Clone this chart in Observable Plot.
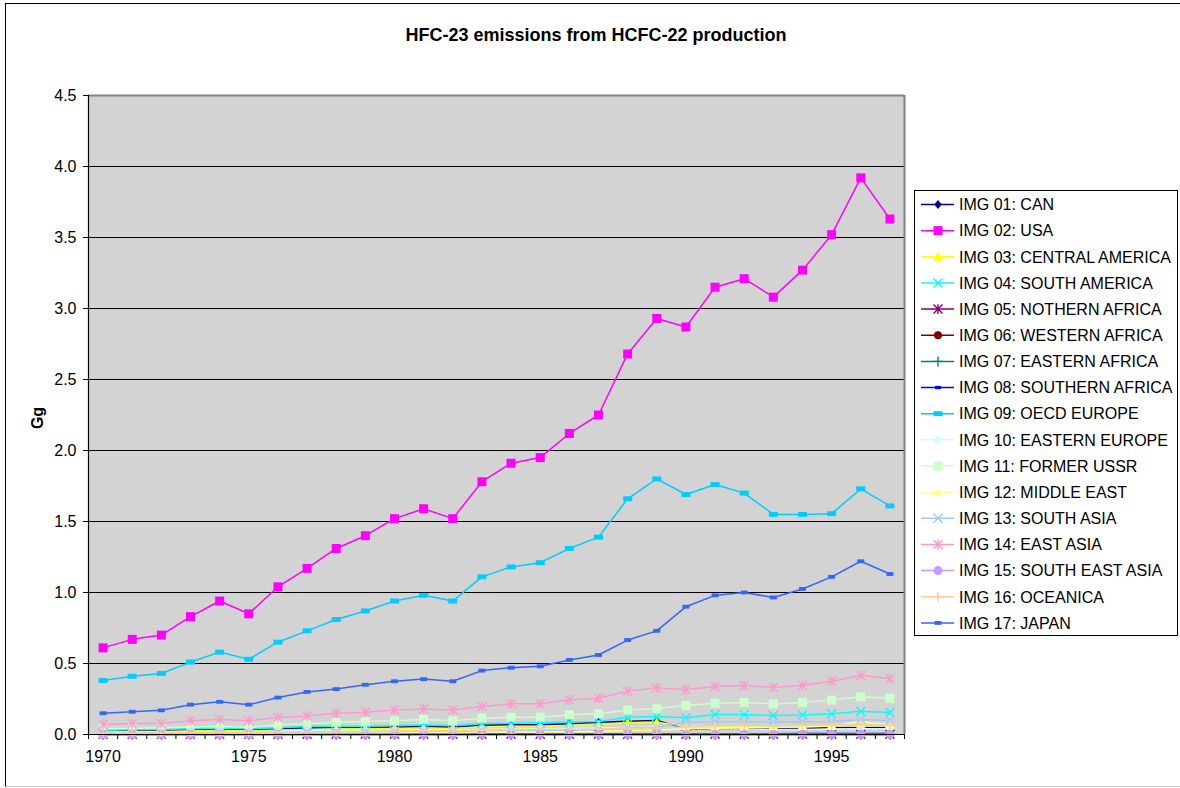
<!DOCTYPE html>
<html>
<head>
<meta charset="utf-8">
<script src="https://cdn.jsdelivr.net/npm/d3@7"></script>
<script src="https://cdn.jsdelivr.net/npm/@observablehq/plot@0.6"></script>
<style>
  body { margin: 0; background: #fff; font-family: "Liberation Sans", Arial, sans-serif; }
  #wrap { position: relative; width: 1180px; height: 788px; overflow: hidden; background: #fff; }
  #frame { position: absolute; left: 5px; top: 3px; width: 1200px; height: 782px;
           border-left: 1px solid #000; border-top: 1px solid #000; border-bottom: 1px solid #c8c8c8; }
  #title { position: absolute; left: 0; top: 25px; width: 1192px; text-align: center;
           font-weight: bold; font-size: 18px; color: #000; }
  #ylabel { position: absolute; left: 38px; top: 418px; transform: translate(-50%, -50%) rotate(-90deg);
            font-weight: bold; font-size: 16px; color: #000; }
  #chart { position: absolute; left: 0; top: 0; }
  #legend { position: absolute; left: 914px; top: 190px; }
</style>
</head>
<body>
<div id="wrap">
  <div id="frame"></div>
  <div id="title">HFC-23 emissions from HCFC-22 production</div>
  <div id="chart"></div>
  <div id="ylabel">Gg</div>
  <div id="legend"></div>
</div>
<script>
// Years on the category axis
const years = d3.range(1970, 1998);
const yearLabels = [1970, 1975, 1980, 1985, 1990, 1995];
const yTicks = [0, 0.5, 1, 1.5, 2, 2.5, 3, 3.5, 4, 4.5];

// HFC-23 emissions per IMAGE region, Gg, 1970-1997
const can = [0.025, 0.027, 0.028, 0.033, 0.037, 0.033, 0.040, 0.047, 0.049, 0.049, 0.051, 0.056, 0.051, 0.065, 0.068, 0.068, 0.075, 0.087, 0.094, 0.099, 0.040, 0.040, 0.040, 0.040, 0.042, 0.047, 0.047, 0.047];
const usa = [0.61, 0.67, 0.70, 0.83, 0.94, 0.85, 1.04, 1.17, 1.31, 1.40, 1.52, 1.59, 1.52, 1.78, 1.91, 1.95, 2.12, 2.25, 2.68, 2.93, 2.87, 3.15, 3.21, 3.08, 3.27, 3.52, 3.92, 3.63];
const centralAmerica = [0.018, 0.020, 0.021, 0.025, 0.028, 0.025, 0.030, 0.034, 0.038, 0.040, 0.042, 0.045, 0.042, 0.055, 0.056, 0.056, 0.063, 0.068, 0.082, 0.087, 0.058, 0.060, 0.060, 0.058, 0.062, 0.066, 0.075, 0.075];
const southAmerica = [0.030, 0.033, 0.035, 0.040, 0.044, 0.040, 0.048, 0.056, 0.058, 0.058, 0.063, 0.068, 0.063, 0.077, 0.080, 0.085, 0.088, 0.092, 0.122, 0.127, 0.118, 0.140, 0.140, 0.133, 0.137, 0.146, 0.163, 0.155];
const northernAfrica = [0.001, 0.001, 0.001, 0.001, 0.001, 0.001, 0.001, 0.001, 0.001, 0.001, 0.002, 0.002, 0.002, 0.002, 0.002, 0.002, 0.002, 0.002, 0.002, 0.002, 0.002, 0.002, 0.002, 0.002, 0.002, 0.002, 0.002, 0.002];
const westernAfrica = [0, 0, 0, 0, 0, 0, 0, 0, 0, 0, 0, 0, 0, 0, 0, 0, 0, 0, 0, 0, 0, 0, 0, 0, 0, 0, 0, 0];
const easternAfrica = [0, 0, 0, 0, 0, 0, 0, 0, 0, 0, 0, 0, 0, 0, 0, 0, 0, 0, 0, 0, 0, 0, 0, 0, 0, 0, 0, 0];
const southernAfrica = [0.003, 0.003, 0.003, 0.003, 0.004, 0.003, 0.004, 0.004, 0.004, 0.004, 0.005, 0.005, 0.005, 0.005, 0.005, 0.005, 0.006, 0.006, 0.006, 0.006, 0.006, 0.006, 0.006, 0.006, 0.007, 0.007, 0.007, 0.007];
const oecdEurope = [0.38, 0.41, 0.43, 0.51, 0.58, 0.53, 0.65, 0.73, 0.81, 0.87, 0.94, 0.98, 0.94, 1.11, 1.18, 1.21, 1.31, 1.39, 1.66, 1.80, 1.69, 1.76, 1.70, 1.55, 1.55, 1.555, 1.73, 1.61];
const easternEurope = [0.015, 0.016, 0.017, 0.020, 0.022, 0.020, 0.024, 0.026, 0.028, 0.030, 0.032, 0.033, 0.032, 0.036, 0.038, 0.040, 0.042, 0.045, 0.050, 0.052, 0.045, 0.040, 0.038, 0.036, 0.036, 0.038, 0.040, 0.040];
const formerUssr = [0.040, 0.044, 0.047, 0.052, 0.058, 0.050, 0.068, 0.075, 0.087, 0.092, 0.097, 0.106, 0.097, 0.115, 0.122, 0.122, 0.139, 0.146, 0.172, 0.181, 0.205, 0.220, 0.226, 0.215, 0.225, 0.243, 0.265, 0.255];
const middleEast = [0.005, 0.005, 0.006, 0.007, 0.008, 0.007, 0.009, 0.010, 0.011, 0.012, 0.013, 0.014, 0.013, 0.016, 0.017, 0.018, 0.020, 0.022, 0.028, 0.030, 0.040, 0.045, 0.050, 0.050, 0.055, 0.060, 0.090, 0.070];
const southAsia = [0.010, 0.010, 0.011, 0.013, 0.014, 0.013, 0.015, 0.017, 0.019, 0.020, 0.022, 0.023, 0.022, 0.028, 0.030, 0.030, 0.033, 0.036, 0.045, 0.050, 0.085, 0.090, 0.090, 0.087, 0.090, 0.092, 0.105, 0.098];
const eastAsia = [0.070, 0.078, 0.078, 0.097, 0.105, 0.097, 0.120, 0.130, 0.150, 0.157, 0.173, 0.180, 0.172, 0.198, 0.216, 0.216, 0.244, 0.256, 0.305, 0.330, 0.315, 0.338, 0.345, 0.331, 0.347, 0.375, 0.415, 0.394];
const southEastAsia = [0.001, 0.001, 0.001, 0.001, 0.001, 0.001, 0.001, 0.001, 0.001, 0.001, 0.001, 0.001, 0.001, 0.001, 0.001, 0.001, 0.001, 0.001, 0.001, 0.001, 0.001, 0.001, 0.001, 0.001, 0.001, 0.001, 0.001, 0.001];
const oceanica = [0.010, 0.012, 0.012, 0.014, 0.016, 0.014, 0.017, 0.019, 0.021, 0.022, 0.024, 0.025, 0.024, 0.030, 0.033, 0.035, 0.036, 0.038, 0.042, 0.045, 0.055, 0.062, 0.065, 0.060, 0.065, 0.068, 0.070, 0.068];
const japan = [0.15, 0.16, 0.17, 0.21, 0.23, 0.21, 0.26, 0.30, 0.32, 0.35, 0.375, 0.39, 0.375, 0.45, 0.47, 0.48, 0.525, 0.56, 0.665, 0.73, 0.90, 0.98, 1.00, 0.965, 1.025, 1.11, 1.22, 1.13];

// Marker shapes (size is the symbol area, Plot passes pi * r^2)
const rad = (size) => Math.sqrt(size / Math.PI);
const shapes = {
  square:  { draw(c, s) { const r = rad(s) * 0.9; c.rect(-r, -r, 2 * r, 2 * r); } },
  dash:    { draw(c, s) { const r = rad(s); c.rect(-r, -r * 0.55, 2 * r, 1.1 * r); } },
  diamond: { draw(c, s) { const r = rad(s); c.moveTo(0, -r); c.lineTo(r * 0.85, 0); c.lineTo(0, r); c.lineTo(-r * 0.85, 0); c.closePath(); } },
  triangle:{ draw(c, s) { const r = rad(s); c.moveTo(0, -r); c.lineTo(r, r * 0.8); c.lineTo(-r, r * 0.8); c.closePath(); } },
  circle:  { draw(c, s) { const r = rad(s); c.moveTo(r, 0); c.arc(0, 0, r, 0, 2 * Math.PI); } },
  times:   { draw(c, s) { const r = rad(s); c.moveTo(-r, -r); c.lineTo(r, r); c.moveTo(r, -r); c.lineTo(-r, r); } },
  plus:    { draw(c, s) { const r = rad(s); c.moveTo(-r, 0); c.lineTo(r, 0); c.moveTo(0, -r); c.lineTo(0, r); } },
  asterisk:{ draw(c, s) { const r = rad(s); c.moveTo(-r, -r); c.lineTo(r, r); c.moveTo(r, -r); c.lineTo(-r, r); c.moveTo(0, -r * 1.1); c.lineTo(0, r * 1.1); } }
};
const strokedShapes = new Set(["times", "plus", "asterisk"]);

const series = [
  { name: "IMG 01: CAN",              values: can,            color: "#000080", shape: "diamond",  r: 4.5 },
  { name: "IMG 02: USA",              values: usa,            color: "#ff00ff", shape: "square",   r: 5 },
  { name: "IMG 03: CENTRAL AMERICA",  values: centralAmerica, color: "#ffff00", shape: "triangle", r: 5 },
  { name: "IMG 04: SOUTH AMERICA",    values: southAmerica,   color: "#00ffff", shape: "times",    r: 4.5 },
  { name: "IMG 05: NOTHERN AFRICA",   values: northernAfrica, color: "#800080", shape: "asterisk", r: 4.5 },
  { name: "IMG 06: WESTERN AFRICA",   values: westernAfrica,  color: "#800000", shape: "circle",   r: 4 },
  { name: "IMG 07: EASTERN AFRICA",   values: easternAfrica,  color: "#008080", shape: "plus",     r: 5 },
  { name: "IMG 08: SOUTHERN AFRICA",  values: southernAfrica, color: "#0000ff", shape: "dash",     r: 3 },
  { name: "IMG 09: OECD EUROPE",      values: oecdEurope,     color: "#00ccff", shape: "dash",     r: 4.5 },
  { name: "IMG 10: EASTERN EUROPE",   values: easternEurope,  color: "#ccffff", shape: "diamond",  r: 5 },
  { name: "IMG 11: FORMER USSR",      values: formerUssr,     color: "#ccffcc", shape: "square",   r: 5 },
  { name: "IMG 12: MIDDLE EAST",      values: middleEast,     color: "#ffff99", shape: "triangle", r: 5 },
  { name: "IMG 13: SOUTH ASIA",       values: southAsia,      color: "#99ccff", shape: "times",    r: 4.5 },
  { name: "IMG 14: EAST ASIA",        values: eastAsia,       color: "#ff99cc", shape: "asterisk", r: 4.5 },
  { name: "IMG 15: SOUTH EAST ASIA",  values: southEastAsia,  color: "#cc99ff", shape: "circle",   r: 4.5 },
  { name: "IMG 16: OCEANICA",         values: oceanica,       color: "#ffcc99", shape: "plus",     r: 5 },
  { name: "IMG 17: JAPAN",            values: japan,          color: "#3366ff", shape: "dash",     r: 3.5 }
];

// One line plus its markers per region, drawn in legend order
const seriesMarks = series.flatMap((s) => {
  const rows = years.map((year, i) => ({ year, value: s.values[i] }));
  const stroked = strokedShapes.has(s.shape);
  return [
    Plot.line(rows, { x: "year", y: "value", stroke: s.color, strokeWidth: 1.5 }),
    Plot.dot(rows, {
      x: "year", y: "value", r: s.r, symbol: shapes[s.shape],
      fill: stroked ? "none" : s.color,
      stroke: stroked ? s.color : "none",
      strokeWidth: stroked ? 1.4 : 0
    })
  ];
});

const categoryEdges = d3.range(1969.5, 1998, 1);
const gridValues = yTicks.filter((v) => v > 0 && v < 4.5);

const chart = Plot.plot({
  width: 910,
  height: 770,
  marginLeft: 88,
  marginRight: 6,
  marginTop: 95,
  marginBottom: 36,
  x: { domain: [1969.5, 1997.5] },
  y: { domain: [0, 4.5] },
  style: { fontFamily: "'Liberation Sans', Arial, sans-serif", fontSize: "16px", color: "#000", background: "transparent", overflow: "visible" },
  marks: [
    Plot.frame({ fill: "#d3d3d3", stroke: null }),
    Plot.ruleY(gridValues, { stroke: "#000", strokeWidth: 1 }),
    Plot.ruleY([4.5], { stroke: "#808080", strokeWidth: 2 }),
    Plot.ruleX([1997.5], { stroke: "#808080", strokeWidth: 2 }),
    ...seriesMarks,
    Plot.ruleY([0], { stroke: "#000", strokeWidth: 1.2 }),
    Plot.ruleX([1969.5], { stroke: "#000", strokeWidth: 1.2 }),
    Plot.axisY({ ticks: yTicks, tickFormat: (d) => d.toFixed(1), tickSize: 5, tickPadding: 7, label: null, fontSize: 16 }),
    Plot.axisX({ ticks: categoryEdges, tickSize: 5, tickFormat: () => "", label: null }),
    Plot.axisX({ ticks: yearLabels, tickSize: 0, tickPadding: 16, tickFormat: (d) => String(d), label: null, fontSize: 16 })
  ]
});
document.getElementById("chart").appendChild(chart);

// Legend box to the right of the plot
const lw = 264, lh = 446, rowStep = 26.15;
const legend = d3.select("#legend").append("svg")
  .attr("width", lw).attr("height", lh)
  .style("font-family", "'Liberation Sans', Arial, sans-serif")
  .style("font-size", "16px");
legend.append("rect").attr("x", 0.5).attr("y", 0.5).attr("width", lw - 1).attr("height", lh - 1)
  .attr("fill", "#fff").attr("stroke", "#000");
series.forEach((s, i) => {
  const y = 14.5 + i * rowStep;
  const g = legend.append("g").attr("transform", `translate(0,${y})`);
  g.append("line").attr("x1", 7).attr("x2", 40).attr("y1", 0).attr("y2", 0)
    .attr("stroke", s.color).attr("stroke-width", 1.5);
  const p = d3.path();
  shapes[s.shape].draw(p, Math.PI * s.r * s.r);
  const stroked = strokedShapes.has(s.shape);
  g.append("path").attr("transform", "translate(24,0)").attr("d", p.toString())
    .attr("fill", stroked ? "none" : s.color)
    .attr("stroke", stroked ? s.color : "none")
    .attr("stroke-width", stroked ? 1.4 : 0);
  g.append("text").attr("x", 45).attr("y", 0).attr("dy", "0.36em").attr("fill", "#000").text(s.name);
});
</script>
</body>
</html>
